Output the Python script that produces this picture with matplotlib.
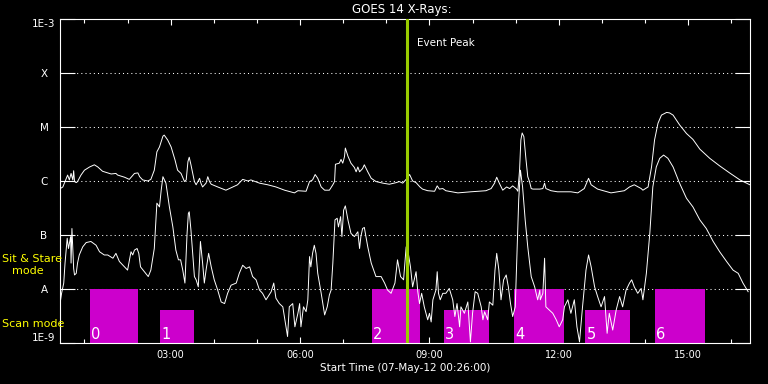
import numpy as np
import matplotlib
matplotlib.use("Agg")
import matplotlib.pyplot as plt
from matplotlib.ticker import FixedLocator, FuncFormatter, NullLocator

# GOES 14 X-ray flux, time in hours of 07-May-12, flux as log10(W/m^2)
long_t = [0.44, 0.50, 0.55, 0.61, 0.65, 0.69, 0.73, 0.75, 0.77, 0.81, 0.84, 0.92, 1.00, 1.12, 1.23, 1.31,
          1.42, 1.62, 1.73, 1.77, 1.93, 2.04, 2.16, 2.24, 2.28, 2.35, 2.47, 2.54, 2.62, 2.68, 2.74, 2.82,
          2.85, 2.93, 3.01, 3.10, 3.16, 3.24, 3.32, 3.36, 3.40, 3.43, 3.47, 3.51, 3.55, 3.59, 3.67, 3.70,
          3.74, 3.82, 3.86, 3.90, 3.94, 4.09, 4.28, 4.44, 4.55, 4.67, 4.79, 4.86, 5.06, 5.25, 5.44, 5.64,
          5.87, 5.95, 6.14, 6.22, 6.29, 6.35, 6.41, 6.49, 6.57, 6.68, 6.76, 6.80, 6.82, 6.91, 6.95, 6.99,
          7.03, 7.05, 7.11, 7.18, 7.26, 7.30, 7.34, 7.38, 7.45, 7.49, 7.57, 7.65, 7.76, 7.92, 8.07, 8.23,
          8.30, 8.38, 8.46, 8.54, 8.61, 8.69, 8.78, 8.84, 8.96, 9.12, 9.18, 9.23, 9.31, 9.38, 9.66, 9.96,
          10.31, 10.43, 10.51, 10.56, 10.62, 10.70, 10.79, 10.86, 10.93, 11.02, 11.05, 11.09, 11.12, 11.15,
          11.19, 11.24, 11.28, 11.32, 11.36, 11.40, 11.56, 11.63, 11.67, 11.70, 11.82, 11.97, 12.28, 12.44,
          12.59, 12.69, 12.75, 12.90, 13.21, 13.37, 13.52, 13.64, 13.75, 13.91, 13.95, 14.07, 14.15, 14.22,
          14.30, 14.38, 14.50, 14.57, 14.65, 14.80, 14.96, 15.11, 15.27, 15.50, 15.73, 15.96, 16.20, 16.43]
long_logf = [-6.14, -6.11, -6.01, -5.89, -5.98, -5.86, -5.98, -5.81, -6.01, -6.03, -6.01, -5.89, -5.80, -5.74,
             -5.70, -5.74, -5.82, -5.87, -5.86, -5.89, -5.93, -5.97, -5.86, -5.85, -5.92, -5.98, -6.00, -5.97,
             -5.80, -5.46, -5.37, -5.17, -5.15, -5.24, -5.37, -5.61, -5.80, -5.86, -6.01, -5.98, -5.64, -5.56,
             -5.70, -5.86, -6.01, -6.07, -5.95, -6.04, -6.11, -6.04, -5.92, -6.01, -6.06, -6.11, -6.17, -6.11,
             -6.07, -5.97, -6.00, -5.98, -6.04, -6.07, -6.11, -6.17, -6.22, -6.18, -6.19, -6.01, -5.98, -5.88,
             -5.95, -6.11, -6.17, -6.17, -6.07, -6.01, -5.69, -5.67, -5.60, -5.67, -5.55, -5.39, -5.54, -5.67,
             -5.75, -5.83, -5.74, -5.83, -5.77, -5.70, -5.83, -5.95, -6.01, -6.04, -6.06, -6.03, -6.01, -6.04,
             -5.97, -5.88, -6.00, -6.03, -6.11, -6.15, -6.18, -6.19, -6.09, -6.15, -6.14, -6.18, -6.22, -6.20,
             -6.18, -6.14, -6.04, -5.93, -6.04, -6.17, -6.11, -6.14, -6.09, -6.15, -6.19, -5.80, -5.24, -5.11,
             -5.18, -5.61, -5.92, -6.01, -6.14, -6.15, -6.15, -6.14, -6.04, -6.14, -6.18, -6.20, -6.20, -6.22,
             -6.14, -5.95, -6.07, -6.15, -6.22, -6.20, -6.18, -6.11, -6.07, -6.14, -6.17, -6.11, -5.74, -5.24,
             -4.93, -4.78, -4.73, -4.74, -4.78, -4.96, -5.12, -5.23, -5.41, -5.58, -5.72, -5.85, -5.98, -6.07]

short_t = [0.44, 0.47, 0.52, 0.55, 0.60, 0.63, 0.68, 0.69, 0.71, 0.75, 0.77, 0.81, 0.84, 0.88, 0.96, 1.04,
           1.15, 1.27, 1.35, 1.46, 1.54, 1.66, 1.73, 1.81, 1.93, 2.00, 2.08, 2.12, 2.16, 2.22, 2.26, 2.30,
           2.39, 2.48, 2.54, 2.62, 2.68, 2.74, 2.78, 2.82, 2.89, 2.97, 3.05, 3.12, 3.18, 3.23, 3.28, 3.33,
           3.38, 3.41, 3.43, 3.47, 3.51, 3.55, 3.59, 3.64, 3.69, 3.74, 3.78, 3.82, 3.88, 3.94, 4.01, 4.09,
           4.17, 4.25, 4.32, 4.40, 4.52, 4.59, 4.67, 4.75, 4.83, 4.90, 4.98, 5.06, 5.13, 5.21, 5.33, 5.39,
           5.44, 5.52, 5.60, 5.71, 5.75, 5.83, 5.88, 5.95, 5.99, 6.02, 6.08, 6.14, 6.18, 6.22, 6.25, 6.29,
           6.33, 6.37, 6.41, 6.49, 6.57, 6.63, 6.68, 6.72, 6.76, 6.81, 6.86, 6.89, 6.94, 6.97, 7.01, 7.05,
           7.11, 7.18, 7.26, 7.34, 7.38, 7.41, 7.45, 7.49, 7.57, 7.65, 7.76, 7.88, 7.96, 8.03, 8.11, 8.20,
           8.26, 8.33, 8.40, 8.46, 8.51, 8.56, 8.61, 8.69, 8.73, 8.77, 8.82, 8.88, 8.96, 9.00, 9.04, 9.08,
           9.15, 9.18, 9.21, 9.25, 9.31, 9.38, 9.46, 9.54, 9.59, 9.64, 9.70, 9.73, 9.81, 9.89, 9.95, 10.00,
           10.06, 10.12, 10.20, 10.24, 10.28, 10.35, 10.39, 10.47, 10.52, 10.56, 10.61, 10.66, 10.72, 10.78,
           10.83, 10.88, 10.93, 10.99, 11.03, 11.07, 11.11, 11.16, 11.22, 11.28, 11.36, 11.44, 11.51, 11.56,
           11.57, 11.63, 11.67, 11.70, 11.78, 11.86, 11.94, 12.01, 12.09, 12.13, 12.21, 12.28, 12.36, 12.42,
           12.48, 12.55, 12.63, 12.69, 12.75, 12.83, 12.90, 12.98, 13.06, 13.12, 13.17, 13.25, 13.33, 13.41,
           13.48, 13.56, 13.64, 13.69, 13.75, 13.83, 13.91, 13.95, 14.03, 14.11, 14.18, 14.26, 14.34, 14.43,
           14.53, 14.65, 14.80, 14.96, 15.11, 15.27, 15.42, 15.58, 15.73, 15.89, 16.04, 16.16, 16.27, 16.39]
short_logf = [-8.24, -8.08, -7.89, -7.52, -7.06, -7.25, -7.03, -7.52, -6.88, -7.62, -7.74, -7.71, -7.52, -7.37,
              -7.22, -7.14, -7.12, -7.19, -7.31, -7.37, -7.37, -7.43, -7.34, -7.49, -7.59, -7.65, -7.31, -7.37,
              -7.28, -7.25, -7.34, -7.59, -7.68, -7.77, -7.65, -7.25, -6.41, -6.48, -6.17, -5.92, -6.04, -6.48,
              -6.85, -7.28, -7.46, -7.46, -7.65, -7.89, -6.97, -6.60, -6.57, -6.91, -7.34, -7.77, -7.83, -7.96,
              -7.12, -7.52, -7.89, -7.65, -7.34, -7.59, -7.83, -8.02, -8.24, -8.27, -8.08, -7.93, -7.89, -7.71,
              -7.56, -7.62, -7.59, -7.77, -7.83, -8.02, -8.08, -8.20, -8.05, -7.89, -8.17, -8.27, -8.33, -8.88,
              -8.33, -8.27, -8.70, -8.45, -8.27, -8.70, -8.33, -8.42, -8.20, -7.40, -7.59, -7.34, -7.19, -7.34,
              -7.71, -8.08, -8.48, -8.33, -8.11, -8.02, -7.52, -6.72, -6.69, -6.85, -6.66, -7.03, -6.54, -6.46,
              -6.72, -6.97, -7.03, -6.94, -7.25, -7.03, -6.88, -6.86, -7.22, -7.52, -7.77, -7.77, -7.89, -8.02,
              -8.08, -7.89, -7.46, -7.77, -7.83, -7.22, -7.34, -7.59, -7.96, -7.68, -8.05, -8.27, -8.08, -8.33,
              -8.57, -8.45, -8.61, -8.20, -8.02, -7.68, -8.08, -8.20, -8.08, -8.08, -7.99, -8.20, -8.51, -8.27,
              -8.70, -8.33, -8.45, -8.24, -8.98, -8.45, -8.05, -8.08, -8.33, -8.57, -8.42, -8.57, -8.24, -8.30,
              -7.65, -7.34, -7.65, -8.20, -7.83, -7.74, -7.96, -8.27, -8.51, -8.33, -7.34, -6.35, -5.80, -6.11,
              -6.72, -7.22, -7.77, -7.96, -8.20, -8.02, -8.20, -8.08, -7.43, -8.33, -8.39, -8.45, -8.57, -8.70,
              -8.57, -8.33, -8.20, -8.45, -8.20, -8.70, -8.98, -8.33, -7.65, -7.37, -7.59, -7.96, -8.14, -8.33,
              -8.14, -8.82, -8.45, -8.76, -8.39, -8.14, -8.33, -8.02, -7.89, -7.83, -7.96, -8.08, -7.99, -8.20,
              -7.71, -6.97, -6.11, -5.74, -5.58, -5.52, -5.58, -5.74, -6.04, -6.32, -6.48, -6.72, -6.88, -7.12,
              -7.31, -7.49, -7.65, -7.71, -7.89, -8.05]

# observation blocks (hours) and their mode
box_start = [1.12, 2.75, 7.66, 9.33, 10.95, 12.61, 14.22]
box_end = [2.25, 3.55, 8.79, 10.37, 12.11, 13.64, 15.38]
box_mode = ["stare", "scan", "stare", "scan", "stare", "scan", "stare"]
mode_top = {"stare": 1e-8, "scan": 10 ** -8.39}

peak_time = 8.49
t_start, t_end = 26 / 60, 16 + 26 / 60

levels = [1e-9, 1e-8, 1e-7, 1e-6, 1e-5, 1e-4, 1e-3]
level_labels = ["1E-9", "A", "B", "C", "M", "X", "1E-3"]

fig = plt.figure(figsize=(7.68, 3.84), dpi=100, facecolor="black")
ax = fig.add_axes([60 / 768, 41 / 384, 690 / 768, 324 / 384], facecolor="black")
ax.set_yscale("log")
ax.set_xlim(t_start, t_end)
ax.set_ylim(1e-9, 1e-3)

# dotted class lines
for lev in levels[1:-1]:
    ax.axhline(lev, color="white", lw=0.75, ls=(0, (1, 3)), zorder=1)

# mode boxes
for i, (s, e, m) in enumerate(zip(box_start, box_end, box_mode)):
    top = mode_top[m]
    ax.bar(s, top - 1e-9, bottom=1e-9, width=e - s, align="edge", color="#cc00cc", zorder=2)
    ax.annotate(str(i), xy=(s, 1e-9), xytext=(1, 3), textcoords="offset points",
                ha="left", va="baseline", color="white", fontsize=10.5, zorder=3)

ax.plot(long_t, 10 ** np.array(long_logf), color="white", lw=0.7, zorder=4)
ax.plot(short_t, 10 ** np.array(short_logf), color="white", lw=0.7, zorder=4)

ax.axvline(peak_time, color="#99cc00", lw=2.2, zorder=5)
ax.annotate("Event Peak", xy=(peak_time, 10 ** -3.44), xytext=(7, 0), textcoords="offset points",
            ha="left", va="center", color="white", fontsize=7.5)

# axes styling
for sp in ax.spines.values():
    sp.set_color("white")
    sp.set_linewidth(0.8)

ax.xaxis.set_major_locator(FixedLocator([3, 6, 9, 12, 15]))
ax.xaxis.set_minor_locator(FixedLocator(list(range(1, 17))))
ax.xaxis.set_major_formatter(FuncFormatter(lambda h, pos: f"{int(h):02d}:00"))
ax.tick_params(axis="x", which="major", direction="in", length=4.5, width=0.8, colors="white",
               labelsize=7, pad=5, top=True)
ax.tick_params(axis="x", which="minor", direction="in", length=2.8, width=0.8, colors="white", top=True)

ax.yaxis.set_minor_locator(NullLocator())
ax.set_yticks(levels, labels=level_labels, ha="center")
ax.tick_params(axis="y", which="major", direction="in", length=10.8, width=0.8, colors="white",
               labelsize=7.5, pad=11.5, right=True)
ylabs = ax.get_yticklabels()
ylabs[0].set_va("bottom")
ylabs[-1].set_va("top")

ax.set_xlabel("Start Time (07-May-12 00:26:00)", color="white", fontsize=7.5, labelpad=2)

fig.text(402 / 768, 1 - 9 / 384, "GOES 14 X-Rays:", ha="center", va="center", color="white", fontsize=8.5)
fig.text(2 / 768, 1 - 259 / 384, "Sit & Stare", ha="left", va="center", color="yellow", fontsize=8)
fig.text(12 / 768, 1 - 271 / 384, "mode", ha="left", va="center", color="yellow", fontsize=8)
fig.text(2 / 768, 1 - 324 / 384, "Scan mode", ha="left", va="center", color="yellow", fontsize=8)

fig.savefig("out.png", dpi=100, facecolor="black")
